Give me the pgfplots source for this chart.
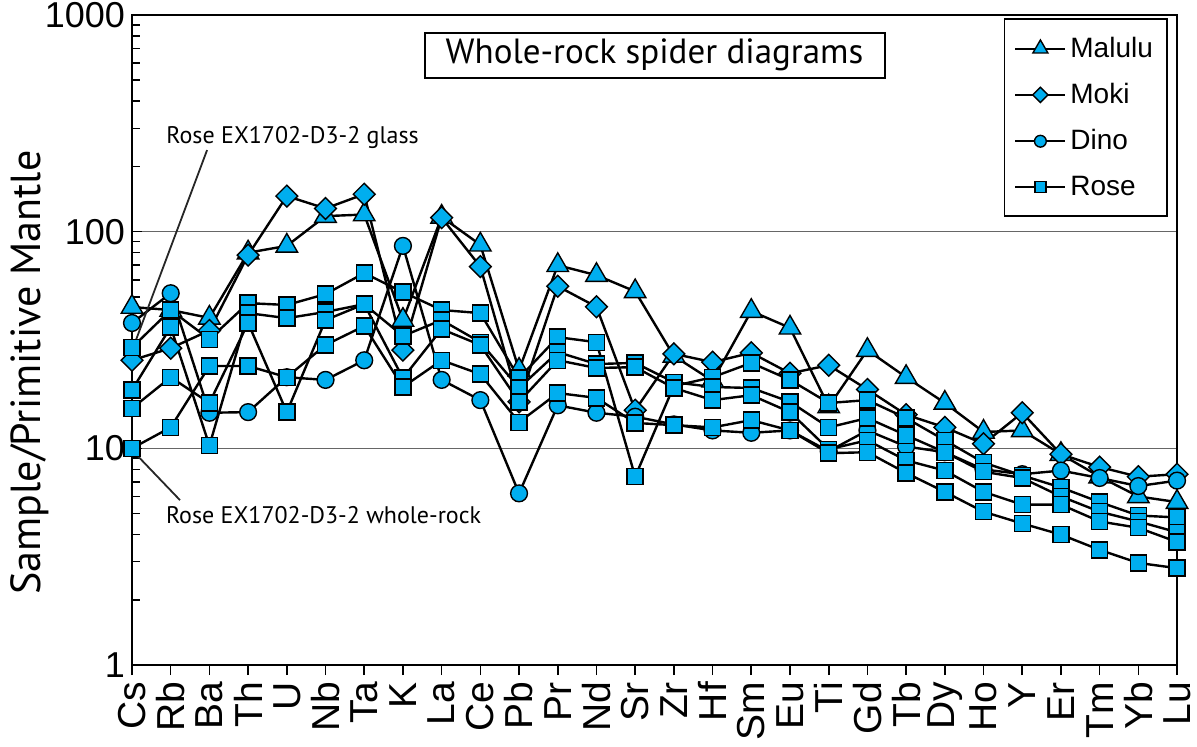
\documentclass[border=0pt]{standalone}
\usepackage{pgfplots}
\pgfplotsset{compat=1.18}
\usepackage{fontspec}
\setmainfont{Liberation Sans}
\newfontfamily\ptsans{PT Sans}
\definecolor{cy}{HTML}{00AEEF}

\pgfplotsset{
  spider/.style={black, line width=1.2pt, mark options={fill=cy, draw=black, line width=0.7pt, solid}},
  malulu/.style={spider, mark=triangle*, mark size=6.2pt},
  moki/.style={spider, mark=square*, mark size=3.85pt, mark options={fill=cy, draw=black, line width=0.7pt, solid, rotate=45}},
  dino/.style={spider, mark=*, mark size=4.2pt},
  rose/.style={spider, mark=square*, mark size=4pt},
}

\begin{document}
\begin{tikzpicture}
\begin{axis}[
    scale only axis,
    width=522.5pt, height=325pt,
    ymode=log,
    xmin=0, xmax=27, ymin=1, ymax=1000,
    clip=false,
    axis line style={line width=1.3pt},
    xtick={0,...,27},
    xticklabels={Cs,Rb,Ba,Th,U,Nb,Ta,K,La,Ce,Pb,Pr,Nd,Sr,Zr,Hf,Sm,Eu,Ti,Gd,Tb,Dy,Ho,Y,Er,Tm,Yb,Lu},
    xticklabel style={rotate=90, anchor=east, font=\fontsize{19.5}{19.5}\selectfont},
    xtick align=outside, xtick pos=bottom,
    ytick={1,10,100,1000},
    yticklabels={1,10,100,1000},
    minor ytick={2,3,4,5,6,7,8,9,20,30,40,50,60,70,80,90,200,300,400,500,600,700,800,900},
    ytick align=inside, ytick pos=left,
    yticklabel style={font=\fontsize{18}{18}\selectfont},
    tick style={black, line width=0.8pt},
    major tick length=5pt, minor tick length=4pt,
    ymajorgrids=true,
    major grid style={black!60, line width=0.6pt},
    ylabel={\ptsans Sample/Primitive Mantle},
    ylabel style={at={(rel axis cs:-0.0976,0.45)}, anchor=center, font=\fontsize{21}{21}\selectfont},
    legend style={at={(0.991,0.995)}, anchor=north east, draw=black, line width=0.75pt,
      font=\fontsize{14}{14}\selectfont, row sep=7.5pt, inner xsep=5pt, inner ysep=7pt,
      cells={anchor=west}},
    legend image code/.code={
      \draw[mark repeat=2, mark phase=2, #1, line width=1pt, every mark/.append style={scale=0.7}]
        plot coordinates {(0pt,0pt) (12.5pt,0pt) (25pt,0pt)};
    },
]
\coordinate (bbsw) at (rel axis cs:-0.1263,-0.1246);
\coordinate (bbne) at (rel axis cs:1.0191,1.0231);

% Malulu
\addplot[malulu] coordinates {(0,44.9) (1,43.5) (2,40) (3,80) (4,86) (5,118) (6,120) (7,39.1) (8,117) (9,87) (10,23) (11,70) (12,63) (13,53) (14,26.7) (15,20.5) (16,43) (17,36) (18,15.6) (19,28.4) (20,21.3) (21,16.2) (22,11.9) (23,12.1) (24,9.4) (25,7.4) (26,6.0) (27,5.65)};
\addlegendentry{Malulu}
% Moki
\addplot[moki] coordinates {(0,25.5) (1,29) (2,35) (3,78) (4,146) (5,128) (6,149) (7,28.4) (8,116) (9,69) (10,16.4) (11,56) (12,45) (13,15) (14,27.3) (15,25) (16,27.6) (17,22.2) (18,24.2) (19,18.7) (20,14.3) (21,12.5) (22,10.5) (23,14.6) (24,9.4) (25,8.2) (26,7.4) (27,7.6)};
\addlegendentry{Moki}
% Dino
\addplot[dino] coordinates {(0,37.9) (1,52) (2,14.6) (3,14.7) (4,21.3) (5,20.7) (6,25.5) (7,86) (8,20.7) (9,16.7) (10,6.2) (11,15.8) (12,14.6) (13,14.0) (14,12.9) (15,12.1) (16,11.8) (17,12.1) (18,9.7) (19,12.1) (20,10.2) (21,9.6) (22,8.0) (23,7.6) (24,7.9) (25,7.3) (26,6.7) (27,7.1)};
\addlegendentry{Dino}
% Rose samples
\addplot[rose] coordinates {(0,29.2) (1,43.5) (2,31.9) (3,46.8) (4,45.9) (5,51.5) (6,64.4) (7,52.6) (8,43.5) (9,42.1) (10,21.1) (11,32.6) (12,30.9) (13,7.4) (14,19.4) (15,21.3) (16,24.8) (17,20.7) (18,16.2) (19,16.7) (20,13.8) (21,10.9) (22,8.6) (23,7.5) (24,6.6) (25,5.65) (26,4.9) (27,4.8)};
\addlegendentry{Rose}
\addplot[rose, forget plot] coordinates {(0,18.6) (1,36.3) (2,10.3) (3,42.1) (4,39.9) (5,42.6) (6,46.3) (7,33.0) (8,39.1) (9,30.9) (10,19.0) (11,27.8) (12,24.5) (13,24.8) (14,20.2) (15,19.2) (16,19.0) (17,16.4) (18,12.5) (19,13.8) (20,11.5) (21,9.6) (22,7.8) (23,7.3) (24,6.0) (25,5.1) (26,4.6) (27,4.1)};
\addplot[rose, forget plot] coordinates {(0,15.3) (1,21.3) (2,16.2) (3,37.9) (4,14.7) (5,39.1) (6,46.3) (7,21.1) (8,35.5) (9,30.0) (10,16.4) (11,25.5) (12,23.5) (13,23.7) (14,19.0) (15,16.7) (16,17.6) (17,14.7) (18,9.9) (19,10.9) (20,8.8) (21,7.9) (22,6.3) (23,5.5) (24,5.5) (25,4.6) (26,4.3) (27,3.7)};
\addplot[rose, forget plot] coordinates {(0,10) (1,12.5) (2,24.0) (3,24.0) (4,21.3) (5,30.0) (6,36.7) (7,19.2) (8,25.5) (9,22.0) (10,13.2) (11,18.0) (12,17.1) (13,13.1) (14,12.8) (15,12.5) (16,13.5) (17,12.1) (18,9.5) (19,9.6) (20,7.7) (21,6.3) (22,5.1) (23,4.5) (24,4.0) (25,3.4) (26,2.96) (27,2.8)};

% title box
\node[draw, line width=1pt, font=\ptsans\fontsize{17.5}{17.5}\selectfont, minimum width=230pt, minimum height=22.5pt, inner sep=0pt]
  at (rel axis cs:0.5,0.938) {Whole-rock spider diagrams};

% annotations
\node[font=\ptsans\fontsize{12}{12}\selectfont] at (axis cs:4.15,273) {Rose EX1702-D3-2 glass};
\draw[line width=0.9pt, black!85] (axis cs:1.94,238) -- (axis cs:0.03,29.2);
\node[font=\ptsans\fontsize{12}{12}\selectfont] at (axis cs:4.95,4.92) {Rose EX1702-D3-2 whole-rock};
\draw[line width=0.9pt, black!85] (axis cs:0.03,9.7) -- (axis cs:1.24,5.77);
\end{axis}
\pgfresetboundingbox
\path[use as bounding box] (bbsw) rectangle (bbne);
\end{tikzpicture}
\end{document}
